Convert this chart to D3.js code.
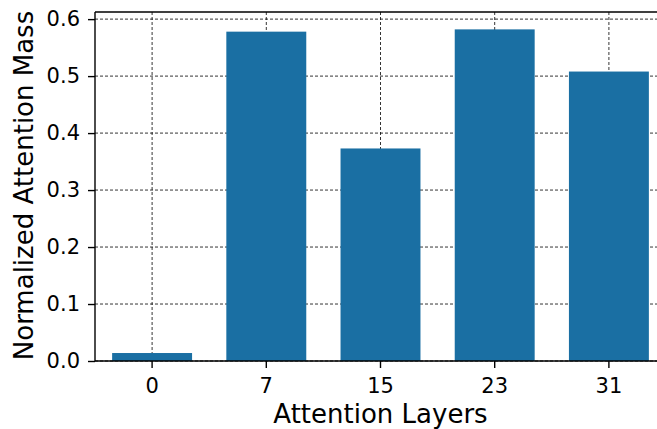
<!DOCTYPE html>
<html><head><meta charset="utf-8">
<script src="https://cdn.jsdelivr.net/npm/d3@7"></script>
<style>body{margin:0;background:#fff}svg{display:block}text{font-family:"DejaVu Sans",sans-serif;fill:#000}</style>
</head><body><svg id="c" width="657" height="429"></svg>
<script>
const categories = ["0","7","15","23","31"];
const values = [0.014, 0.578, 0.373, 0.582, 0.508];
const yTicks = [0.0, 0.1, 0.2, 0.3, 0.4, 0.5, 0.6];

const svg = d3.select("#c");
const m = {l:95, t:12, r:666, b:361};
const x = d3.scaleBand().domain(categories).range([m.l, m.r]).paddingInner(0.3).paddingOuter(0.15);
const y = d3.scaleLinear().domain([0, 0.6125]).range([m.b, m.t]);

// grid
const g = svg.append("g");
g.selectAll(".hg").data(yTicks).join("line")
  .attr("x1", m.l).attr("x2", m.r).attr("y1", d=>y(d)).attr("y2", d=>y(d))
  .attr("stroke","#000").attr("stroke-width",0.8).attr("stroke-dasharray","3,2");
g.selectAll(".vg").data(categories).join("line")
  .attr("x1", d=>x(d)+x.bandwidth()/2).attr("x2", d=>x(d)+x.bandwidth()/2)
  .attr("y1", m.t).attr("y2", m.b)
  .attr("stroke","#000").attr("stroke-width",0.8).attr("stroke-dasharray","3,2");

// bars
svg.selectAll(".bar").data(values).join("rect")
  .attr("x",(d,i)=>x(categories[i])).attr("width",x.bandwidth())
  .attr("y",d=>y(d)).attr("height",d=>y(0)-y(d)).attr("fill","#1a6fa3");

// axes
const ya = svg.append("g").attr("transform",`translate(${m.l},0)`)
  .call(d3.axisLeft(y).tickValues(yTicks).tickFormat(d3.format(".1f")).tickSize(7).tickPadding(8));
const xa = svg.append("g").attr("transform",`translate(0,${m.b})`)
  .call(d3.axisBottom(x).tickSize(7).tickPadding(10));
[ya,xa].forEach(a=>{
  a.selectAll("path").attr("stroke","#000").attr("stroke-width",1.4);
  a.selectAll("line").attr("stroke","#000").attr("stroke-width",1.4);
  a.selectAll("text").attr("font-size",21).attr("font-family","DejaVu Sans").attr("fill","#000");
});
ya.select("path").attr("d",`M0,${m.b}V${m.t}`);
xa.select("path").attr("d",`M${m.l},0H${m.r}`);
// top spine
svg.append("line").attr("x1",m.l).attr("x2",m.r).attr("y1",m.t).attr("y2",m.t).attr("stroke","#000").attr("stroke-width",1.4);

svg.append("text").attr("transform",`translate(33,185.5) rotate(-90)`)
  .attr("text-anchor","middle").attr("font-size",26).text("Normalized Attention Mass");
svg.append("text").attr("x",380.5).attr("y",423)
  .attr("text-anchor","middle").attr("font-size",26).text("Attention Layers");
</script></body></html>
